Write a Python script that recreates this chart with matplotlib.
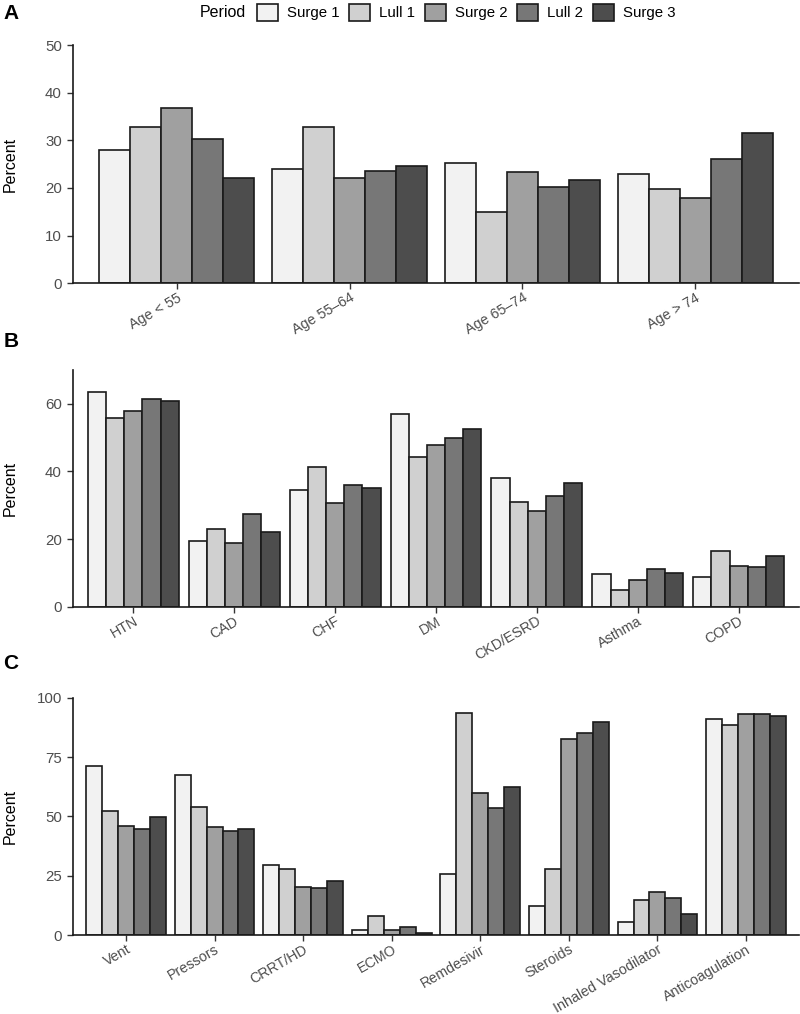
import numpy as np
import matplotlib
matplotlib.use("Agg")
import matplotlib.pyplot as plt
from matplotlib.patches import Patch

periods = ["Surge 1", "Lull 1", "Surge 2", "Lull 2", "Surge 3"]
colors = ["#f2f2f2", "#d0d0d0", "#a0a0a0", "#777777", "#4d4d4d"]

# Panel A: age groups
age_cats = ["Age < 55", "Age 55\u201364", "Age 65\u201374", "Age > 74"]
age_vals = [
    [27.9, 24.0, 25.2, 23.0],   # Surge 1
    [32.8, 32.8, 14.9, 19.7],   # Lull 1
    [36.8, 22.1, 23.4, 17.9],   # Surge 2
    [30.2, 23.6, 20.2, 26.0],   # Lull 2
    [22.2, 24.6, 21.7, 31.6],   # Surge 3
]

# Panel B: comorbidities
como_cats = ["HTN", "CAD", "CHF", "DM", "CKD/ESRD", "Asthma", "COPD"]
como_vals = [
    [63.4, 19.4, 34.6, 57.1, 38.1, 9.6, 8.9],
    [55.9, 23.0, 41.2, 44.4, 31.1, 4.9, 16.4],
    [57.8, 18.9, 30.8, 47.8, 28.3, 8.0, 11.9],
    [61.3, 27.5, 35.9, 49.9, 32.7, 11.1, 11.6],
    [60.7, 22.0, 35.2, 52.6, 36.7, 10.1, 15.1],
]

# Panel C: treatments
tx_cats = ["Vent", "Pressors", "CRRT/HD", "ECMO", "Remdesivir", "Steroids",
           "Inhaled Vasodilator", "Anticoagulation"]
tx_vals = [
    [71.2, 67.3, 29.4, 2.2, 25.6, 12.4, 5.6, 91.0],
    [52.4, 54.1, 27.9, 8.1, 93.6, 27.9, 14.7, 88.4],
    [45.8, 45.4, 20.2, 2.2, 60.0, 82.7, 18.1, 93.3],
    [44.7, 43.7, 19.9, 3.4, 53.4, 85.0, 15.5, 93.3],
    [49.7, 44.7, 22.8, 1.0, 62.2, 89.9, 9.0, 92.2],
]

plt.rcParams["font.family"] = ["Liberation Sans", "DejaVu Sans"]
txt_col = "#4d4d4d"

fig = plt.figure(figsize=(8, 10.14), dpi=100)


def panel(rect, cats, vals, ymax, yticks, letter, letter_y):
    ax = fig.add_axes(rect)
    n = len(cats)
    x = np.arange(n)
    w = 0.9 / len(vals)
    for i, v in enumerate(vals):
        ax.bar(x - 0.45 + w * (i + 0.5), v, width=w, color=colors[i],
               edgecolor="#1a1a1a", linewidth=1.2)
    ax.set_xlim(-0.6, n - 0.4)
    ax.set_ylim(0, ymax)
    ax.set_yticks(yticks)
    ax.set_xticks(x)
    ax.set_xticklabels(cats, rotation=30, ha="right", va="top",
                       rotation_mode="anchor")
    ax.tick_params(axis="y", labelsize=10.8)
    ax.tick_params(axis="x", labelsize=10.3, pad=1)
    ax.tick_params(axis="both", labelcolor=txt_col,
                   length=4.3, width=1, color="#333333")
    for s in ["top", "right"]:
        ax.spines[s].set_visible(False)
    for s in ["left", "bottom"]:
        ax.spines[s].set_linewidth(1.2)
        ax.spines[s].set_color("#1a1a1a")
    # y title placed in figure coords, left edge near the border
    mid = rect[1] + rect[3] / 2
    fig.text(0.003, mid, "Percent", fontsize=11.5, rotation=90,
             ha="left", va="center")
    fig.text(0.004, letter_y, letter, fontsize=15, fontweight="bold",
             va="center", ha="left")
    return ax


panel([0.091, 0.7206, 0.908, 0.235], age_cats, age_vals, 50,
      [0, 10, 20, 30, 40, 50], "A", 0.987)
panel([0.091, 0.4017, 0.908, 0.2334], como_cats, como_vals, 70,
      [0, 20, 40, 60], "B", 0.663)
panel([0.091, 0.0779, 0.908, 0.234], tx_cats, tx_vals, 100,
      [0, 25, 50, 75, 100], "C", 0.346)

handles = [Patch(facecolor=c, edgecolor="#1a1a1a", linewidth=1.2)
           for c in colors]
fig.text(0.25, 0.988, "Period", fontsize=11.5, va="center", ha="left")
fig.legend(handles, periods, ncol=5, loc="center left",
           bbox_to_anchor=(0.321, 0.988), frameon=False, fontsize=10.8,
           handlelength=1.4, handleheight=1.4, handletextpad=0.6,
           columnspacing=0.65, borderaxespad=0, borderpad=0)

fig.savefig("out.png", dpi=100)
